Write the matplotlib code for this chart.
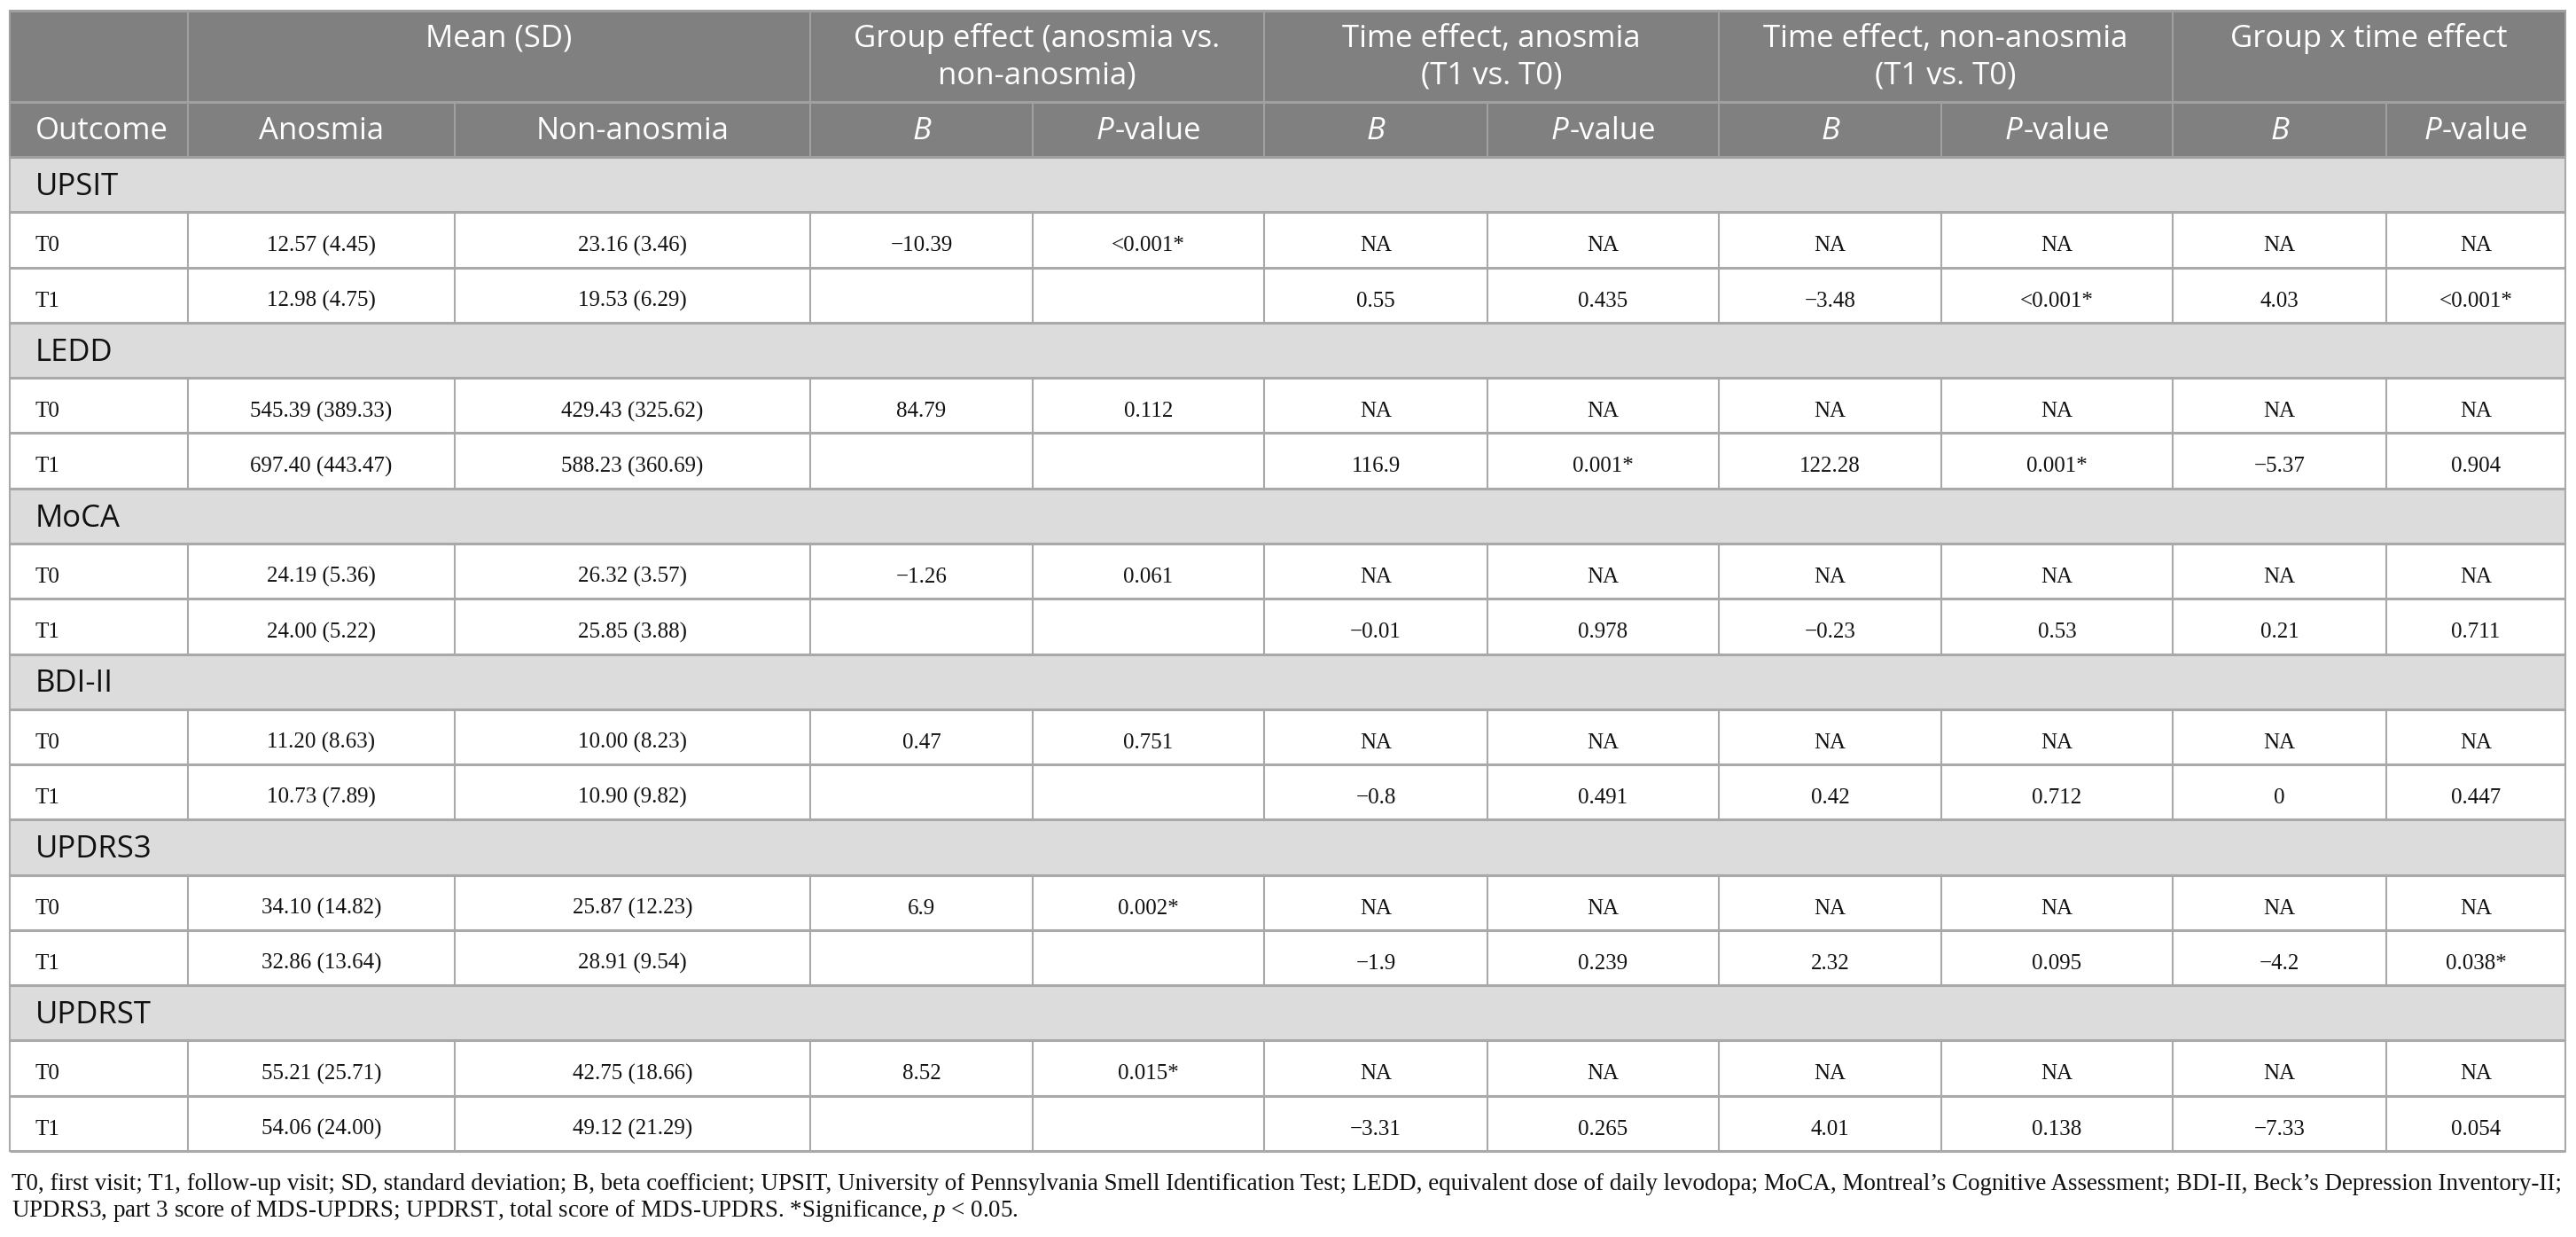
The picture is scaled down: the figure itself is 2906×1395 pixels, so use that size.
import matplotlib
matplotlib.use("Agg")
import matplotlib.pyplot as plt
from matplotlib.patches import Rectangle

# === Table content ===
outcomes = ["UPSIT", "LEDD", "MoCA", "BDI-II", "UPDRS3", "UPDRST"]
visits = ["T0", "T1"]

anosmia_t0 = ["12.57 (4.45)", "545.39 (389.33)", "24.19 (5.36)", "11.20 (8.63)", "34.10 (14.82)", "55.21 (25.71)"]
anosmia_t1 = ["12.98 (4.75)", "697.40 (443.47)", "24.00 (5.22)", "10.73 (7.89)", "32.86 (13.64)", "54.06 (24.00)"]
non_t0 = ["23.16 (3.46)", "429.43 (325.62)", "26.32 (3.57)", "10.00 (8.23)", "25.87 (12.23)", "42.75 (18.66)"]
non_t1 = ["19.53 (6.29)", "588.23 (360.69)", "25.85 (3.88)", "10.90 (9.82)", "28.91 (9.54)", "49.12 (21.29)"]

group_b = ["\u221210.39", "84.79", "\u22121.26", "0.47", "6.9", "8.52"]
group_p = ["<0.001*", "0.112", "0.061", "0.751", "0.002*", "0.015*"]
time_an_b = ["0.55", "116.9", "\u22120.01", "\u22120.8", "\u22121.9", "\u22123.31"]
time_an_p = ["0.435", "0.001*", "0.978", "0.491", "0.239", "0.265"]
time_non_b = ["\u22123.48", "122.28", "\u22120.23", "0.42", "2.32", "4.01"]
time_non_p = ["<0.001*", "0.001*", "0.53", "0.712", "0.095", "0.138"]
inter_b = ["4.03", "\u22125.37", "0.21", "0", "\u22124.2", "\u22127.33"]
inter_p = ["<0.001*", "0.904", "0.711", "0.447", "0.038*", "0.054"]

top_headers = ["", "Mean (SD)", "Group effect (anosmia vs.\nnon-anosmia)",
               "Time effect, anosmia\n(T1 vs. T0)", "Time effect, non-anosmia\n(T1 vs. T0)",
               "Group x time effect"]
sub_headers = ["Outcome", "Anosmia", "Non-anosmia", "B", "P", "B", "P", "B", "P", "B", "P"]

footnote_1 = ("T0, first visit; T1, follow-up visit; SD, standard deviation; B, beta coefficient; "
              "UPSIT, University of Pennsylvania Smell Identification Test; LEDD, equivalent dose of daily levodopa; "
              "MoCA, Montreal\u2019s Cognitive Assessment; BDI-II, Beck\u2019s Depression Inventory-II;")
footnote_2 = "UPDRS3, part 3 score of MDS-UPDRS; UPDRST, total score of MDS-UPDRS. *Significance, $p$ < 0.05."

# === Layout (pixels) ===
W, H = 2906, 1395
col_x = [11, 212, 513, 914, 1165, 1426, 1678, 1939, 2190, 2451, 2692, 2894]
span_x = [11, 212, 914, 1426, 1939, 2451, 2894]
y_top = 12
y_h1 = 115
y_h2 = 177
y_bot = 1298
row_h = (y_bot - y_h2) / 18

HEAD_BG = "#808080"
SECT_BG = "#dcdcdc"
LINE = "#a9a9a9"
SANS = ["Open Sans", "DejaVu Sans"]
SERIF = ["Liberation Serif", "DejaVu Serif"]
SANS_SIZE = 25
BODY_SIZE = 18

plt.rcParams["mathtext.fontset"] = "custom"
plt.rcParams["mathtext.it"] = "Liberation Serif:italic"
plt.rcParams["mathtext.rm"] = "Liberation Serif"

fig = plt.figure(figsize=(W / 100, H / 100), dpi=100)
ax = fig.add_axes([0, 0, 1, 1])
ax.set_xlim(0, W)
ax.set_ylim(H, 0)
ax.axis("off")
renderer = fig.canvas.get_renderer()

# === Backgrounds ===
ax.add_patch(Rectangle((col_x[0], y_top), col_x[-1] - col_x[0], y_h2 - y_top, color=HEAD_BG, lw=0))
for i in range(len(outcomes)):
    ys = y_h2 + 3 * i * row_h
    ax.add_patch(Rectangle((col_x[0], ys), col_x[-1] - col_x[0], row_h, color=SECT_BG, lw=0))

# === Grid lines ===
HLW = 2.2
VLW = 1.5
for y in [y_top, y_h1, y_h2]:
    ax.plot([col_x[0], col_x[-1]], [y, y], color="#a0a0a0", lw=HLW, solid_capstyle="butt")
for r in range(1, 19):
    y = y_h2 + r * row_h
    ax.plot([col_x[0], col_x[-1]], [y, y], color=LINE, lw=HLW, solid_capstyle="butt")
for x in span_x:
    ax.plot([x, x], [y_top, y_h1], color="#a0a0a0", lw=VLW)
for x in col_x:
    ax.plot([x, x], [y_h1, y_h2], color="#a0a0a0", lw=VLW)
for i in range(len(outcomes)):
    ys = y_h2 + 3 * i * row_h
    for x in [col_x[0], col_x[-1]]:
        ax.plot([x, x], [ys, ys + row_h], color=LINE, lw=VLW)
    for x in col_x:
        ax.plot([x, x], [ys + row_h, ys + 3 * row_h], color=LINE, lw=VLW)

# === Header text ===
for j, label in enumerate(top_headers):
    if not label:
        continue
    cx = (span_x[j] + span_x[j + 1]) / 2
    for k, line in enumerate(label.split("\n")):
        ax.text(cx, y_top + 41 + k * 41, line, ha="center", va="baseline",
                family=SANS, fontsize=SANS_SIZE, color="white")

base2 = y_h1 + 42
ax.text(col_x[0] + 29, base2, sub_headers[0], ha="left", va="baseline",
        family=SANS, fontsize=SANS_SIZE, color="white")
for j in range(1, len(sub_headers)):
    cx = (col_x[j] + col_x[j + 1]) / 2
    label = sub_headers[j]
    if label == "Anosmia" or label == "Non-anosmia":
        ax.text(cx, base2, label, ha="center", va="baseline", family=SANS,
                fontsize=SANS_SIZE, color="white")
    elif label == "B":
        ax.text(cx, base2, "B", ha="center", va="baseline", family=SANS,
                fontsize=SANS_SIZE, color="white", style="italic")
    else:
        # italic P followed by upright "-value"
        t1 = ax.text(0, base2, "P", ha="left", va="baseline", family=SANS,
                     fontsize=SANS_SIZE, color="white", style="italic")
        t2 = ax.text(0, base2, "-value", ha="left", va="baseline", family=SANS,
                     fontsize=SANS_SIZE, color="white")
        w1 = t1.get_window_extent(renderer).width
        w2 = t2.get_window_extent(renderer).width
        x0 = cx - (w1 + w2) / 2
        t1.set_x(x0)
        t2.set_x(x0 + w1 + 1)

# === Body ===
for i, name in enumerate(outcomes):
    ys = y_h2 + 3 * i * row_h
    ax.text(col_x[0] + 29, ys + 43, name, ha="left", va="baseline",
            family=SANS, fontsize=SANS_SIZE, color="#111111")
    row_t0 = [visits[0], anosmia_t0[i], non_t0[i], group_b[i], group_p[i],
              "NA", "NA", "NA", "NA", "NA", "NA"]
    row_t1 = [visits[1], anosmia_t1[i], non_t1[i], "", "",
              time_an_b[i], time_an_p[i], time_non_b[i], time_non_p[i], inter_b[i], inter_p[i]]
    for r, cells in enumerate([row_t0, row_t1]):
        base = ys + (r + 1) * row_h + 44
        for j, val in enumerate(cells):
            if j == 0:
                ax.text(col_x[0] + 29, base, val, ha="left", va="baseline",
                        family=SERIF, fontsize=BODY_SIZE, color="#111111")
            else:
                cx = (col_x[j] + col_x[j + 1]) / 2
                ax.text(cx, base, val, ha="center", va="baseline",
                        family=SERIF, fontsize=BODY_SIZE, color="#111111")

# === Footnote (size fitted to the table width) ===
f1 = ax.text(13, 1342, footnote_1, ha="left", va="baseline", family=SERIF,
             fontsize=BODY_SIZE, color="#111111")
w = f1.get_window_extent(renderer).width
fsize = BODY_SIZE * 2877 / w
f1.set_fontsize(fsize)
ax.text(13, 1372, footnote_2, ha="left", va="baseline", family=SERIF,
        fontsize=fsize, color="#111111")

fig.savefig("out.png", dpi=100, facecolor="white")
